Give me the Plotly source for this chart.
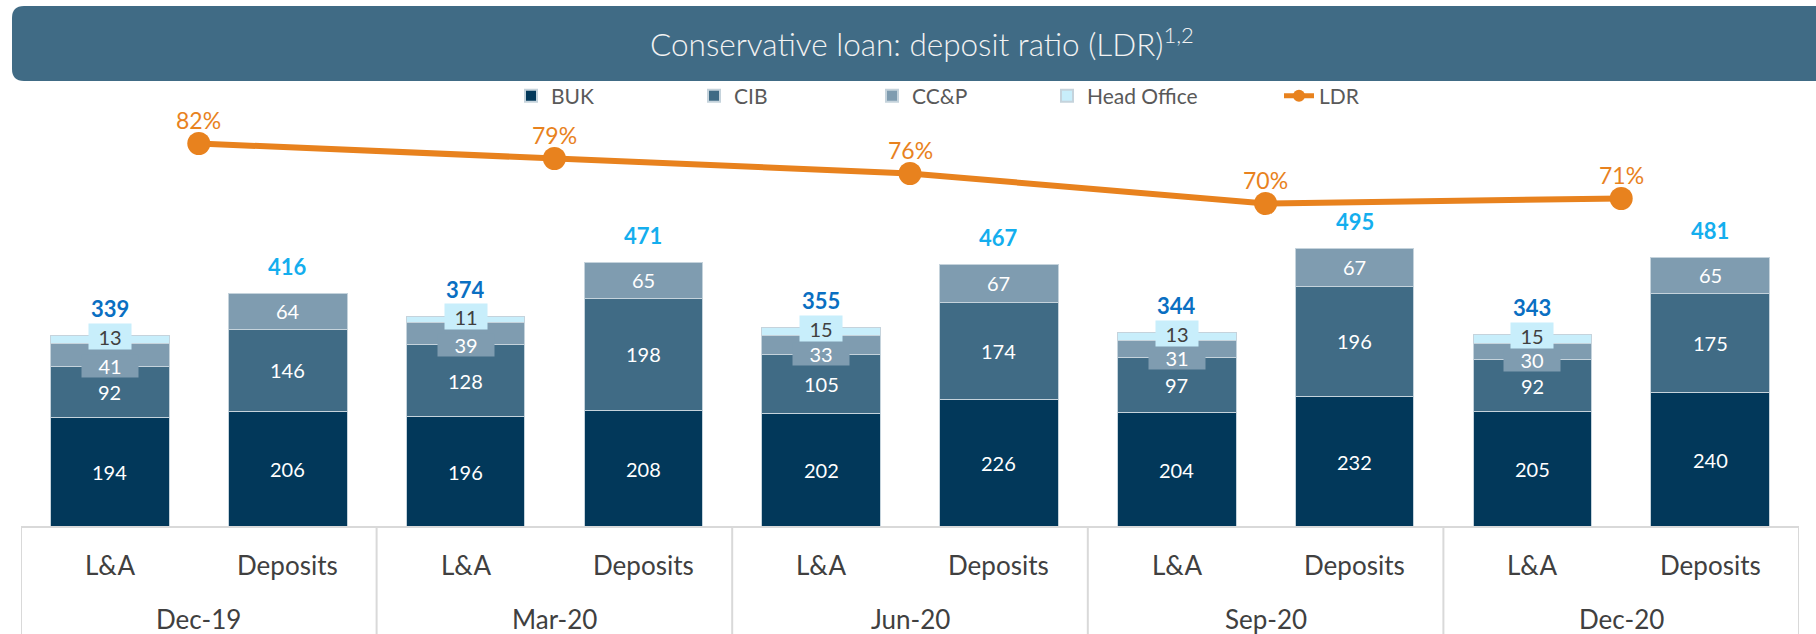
import plotly.graph_objects as go

# ---- data -------------------------------------------------------------
periods = ["Dec-19", "Mar-20", "Jun-20", "Sep-20", "Dec-20"]
kinds = ["L&A", "Deposits"]

buk_loans = [194, 196, 202, 204, 205]
buk_deposits = [206, 208, 226, 232, 240]
cib_loans = [92, 128, 105, 97, 92]
cib_deposits = [146, 198, 174, 196, 175]
ccp_loans = [41, 39, 33, 31, 30]
ccp_deposits = [64, 65, 67, 67, 65]
head_office_loans = [13, 11, 15, 13, 15]
total_loans = [339, 374, 355, 344, 343]
total_deposits = [416, 471, 467, 495, 481]
ldr_pct = [82, 79, 76, 70, 71]

# ---- styling ------------------------------------------------------------
W, H = 1816, 634
M_L, M_R, M_T, M_B = 21, 17, 100, 107
PLOT_W = W - M_L - M_R
PLOT_H = H - M_T - M_B
PX_PER_UNIT = 0.5625
Y2_RANGE = [5.3, 90.7]

FONT = "Lato, 'Open Sans', sans-serif"
C_BUK = "#02385A"
C_CIB = "#406B85"
C_CCP = "#7F9CB0"
C_HO = "#C8EEFB"
C_LDR = "#E8821E"
C_EDGE = "#C5D3DC"
C_TOTAL_LOANS = "#0A6FC2"
C_TOTAL_DEP = "#14AEEE"
C_TEXT = "#404040"
C_LEGEND = "#595959"
C_GRID = "#D9D9D9"


def px_to_paper_x(px):
    return (px - M_L) / PLOT_W


def px_to_paper_y(py):
    return (H - M_B - py) / PLOT_H


n = len(periods)
loan_x = [2 * i for i in range(n)]
dep_x = [2 * i + 1 for i in range(n)]
group_x = [2 * i + 0.5 for i in range(n)]


def interleave(a, b):
    out = []
    for u, v in zip(a, b):
        out += [u, v]
    return out


all_x = interleave(loan_x, dep_x)

fig = go.Figure()

bar_series = [
    ("BUK", buk_loans, buk_deposits, C_BUK, "legend"),
    ("CIB", cib_loans, cib_deposits, C_CIB, "legend2"),
    ("CC&P", ccp_loans, ccp_deposits, C_CCP, "legend3"),
]
for name, la, dep, color, leg in bar_series:
    fig.add_trace(go.Bar(
        name=name, x=all_x, y=interleave(la, dep),
        marker=dict(color=color, line=dict(color=C_EDGE, width=1)),
        width=0.667, legend=leg, hoverinfo="skip",
    ))

fig.add_trace(go.Bar(
    name="Head Office", x=loan_x, y=head_office_loans,
    marker=dict(color=C_HO, line=dict(color=C_EDGE, width=1)),
    width=0.667, legend="legend4", hoverinfo="skip",
))

fig.add_trace(go.Scatter(
    name="LDR", x=group_x, y=ldr_pct, yaxis="y2",
    mode="lines+markers",
    line=dict(color=C_LDR, width=6),
    marker=dict(color=C_LDR, size=23),
    legend="legend5", hoverinfo="skip",
))

ann = []


def label(x, y, text, color="white", size=20, bold=False, yshift=0,
          bg=None, bw=None, bh=None, yref="y"):
    a = dict(x=x, y=y, xref="x", yref=yref, text=f"<b>{text}</b>" if bold else str(text),
             showarrow=False, yshift=yshift, xanchor="center", yanchor="middle",
             font=dict(family=FONT, size=size, color=color))
    if bg:
        a.update(bgcolor=bg, width=bw, height=bh, borderpad=0)
    ann.append(a)


for i in range(n):
    # loans & advances column
    b, c, p, h = buk_loans[i], cib_loans[i], ccp_loans[i], head_office_loans[i]
    x = loan_x[i]
    label(x, b / 2, b)
    label(x, b + c / 2, c)
    label(x, b + c, p, bg=C_CCP, bw=56, bh=22)
    label(x, b + c + p + h / 2, h, color=C_TEXT, yshift=3, bg=C_HO, bw=42, bh=25)
    label(x, b + c + p + h, total_loans[i], color=C_TOTAL_LOANS, size=22, bold=True, yshift=27)

    # deposits column
    b, c, p = buk_deposits[i], cib_deposits[i], ccp_deposits[i]
    x = dep_x[i]
    label(x, b / 2, b)
    label(x, b + c / 2, c)
    label(x, b + c + p / 2, p)
    label(x, b + c + p, total_deposits[i], color=C_TOTAL_DEP, size=22, bold=True, yshift=27)

    # LDR value
    label(group_x[i], ldr_pct[i], f"{ldr_pct[i]}%", color=C_LDR, size=23, yshift=24, yref="y2")

# category table below the bars
for i in range(n):
    for j, kind in enumerate(kinds):
        ann.append(dict(x=2 * i + j, y=0, xref="x", yref="paper", yshift=-38,
                        text=kind, showarrow=False, yanchor="middle",
                        font=dict(family=FONT, size=26, color=C_TEXT)))
    ann.append(dict(x=group_x[i], y=0, xref="x", yref="paper", yshift=-92,
                    text=periods[i], showarrow=False, yanchor="middle",
                    font=dict(family=FONT, size=26, color=C_TEXT)))

# header text
ann.append(dict(x=px_to_paper_x(922), y=px_to_paper_y(42), xref="paper", yref="paper",
                text="Conservative loan: deposit ratio (LDR)<sup>1,2</sup>",
                showarrow=False, xanchor="center", yanchor="middle",
                font=dict(family=FONT, size=31.5, color="#F2F2F2", weight=300)))

shapes = []
# header band with rounded left corners
l, r, t, btm, rad = 12, 1840, 6, 81, 12
P = lambda a, b: f"{px_to_paper_x(a):.6f},{px_to_paper_y(b):.6f}"
path = (f"M{P(l + rad, t)} L{P(r, t)} L{P(r, btm)} L{P(l + rad, btm)} "
        f"Q{P(l, btm)} {P(l, btm - rad)} L{P(l, t + rad)} Q{P(l, t)} {P(l + rad, t)} Z")
shapes.append(dict(type="path", path=path, xref="paper", yref="paper",
                   fillcolor=C_CIB, line=dict(width=0), layer="below"))

# table rules
shapes.append(dict(type="line", xref="paper", yref="paper", x0=0, x1=1, y0=0, y1=0,
                   line=dict(color=C_GRID, width=2)))
table_bottom = px_to_paper_y(H + 5)
for k in range(n + 1):
    shapes.append(dict(type="line", xref="x", yref="paper", x0=2 * k - 0.5, x1=2 * k - 0.5,
                       y0=0, y1=table_bottom, line=dict(color=C_GRID, width=2)))

legend_common = dict(orientation="h", yanchor="middle", y=px_to_paper_y(96),
                     xanchor="left", bgcolor="rgba(0,0,0,0)", borderwidth=0,
                     font=dict(family=FONT, size=21, color=C_LEGEND),
                     itemsizing="constant")
legend_left_px = [511, 694, 872, 1047, 1279]

fig.update_layout(
    width=W, height=H,
    margin=dict(l=M_L, r=M_R, t=M_T, b=M_B, pad=0),
    paper_bgcolor="white", plot_bgcolor="white",
    barmode="stack", showlegend=True,
    xaxis=dict(range=[-0.5, 2 * n - 0.5], showticklabels=False, showgrid=False,
               zeroline=False, showline=False, fixedrange=True),
    yaxis=dict(range=[0, PLOT_H / PX_PER_UNIT], visible=False, fixedrange=True),
    yaxis2=dict(range=Y2_RANGE, overlaying="y", visible=False, fixedrange=True),
    annotations=ann, shapes=shapes,
    legend=dict(legend_common, x=px_to_paper_x(legend_left_px[0])),
    legend2=dict(legend_common, x=px_to_paper_x(legend_left_px[1])),
    legend3=dict(legend_common, x=px_to_paper_x(legend_left_px[2])),
    legend4=dict(legend_common, x=px_to_paper_x(legend_left_px[3])),
    legend5=dict(legend_common, x=px_to_paper_x(legend_left_px[4])),
)

fig.write_html("out.html")
